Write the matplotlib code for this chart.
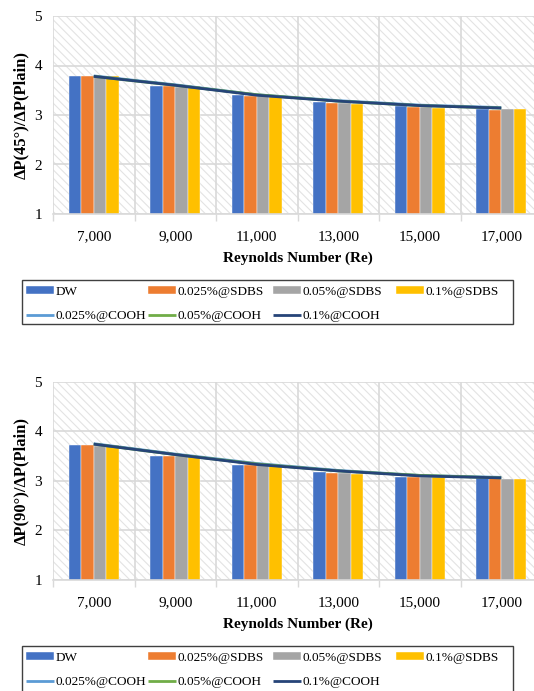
import matplotlib

matplotlib.use("Agg")
import matplotlib.pyplot as plt
from matplotlib.patches import Rectangle
import numpy as np

plt.rcParams["font.family"] = ["Liberation Serif", "DejaVu Serif"]
plt.rcParams["hatch.linewidth"] = 0.8

re_labels = ["7,000", "9,000", "11,000", "13,000", "15,000", "17,000"]

# 45 degree
dw_45 = [3.78, 3.58, 3.40, 3.27, 3.18, 3.12]
sdbs025_45 = [3.78, 3.58, 3.39, 3.25, 3.17, 3.11]
sdbs05_45 = [3.77, 3.56, 3.38, 3.24, 3.16, 3.12]
sdbs1_45 = [3.78, 3.58, 3.38, 3.22, 3.15, 3.12]
cooh025_45 = [3.79, 3.61, 3.41, 3.29, 3.20, 3.15]
cooh05_45 = [3.78, 3.60, 3.41, 3.28, 3.19, 3.14]
cooh1_45 = [3.78, 3.60, 3.40, 3.28, 3.19, 3.14]

# 90 degree
dw_90 = [3.72, 3.51, 3.32, 3.18, 3.08, 3.05]
sdbs025_90 = [3.72, 3.51, 3.32, 3.16, 3.08, 3.05]
sdbs05_90 = [3.71, 3.50, 3.31, 3.15, 3.07, 3.04]
sdbs1_90 = [3.72, 3.51, 3.30, 3.14, 3.07, 3.04]
cooh025_90 = [3.75, 3.54, 3.35, 3.21, 3.11, 3.07]
cooh05_90 = [3.74, 3.53, 3.34, 3.20, 3.11, 3.06]
cooh1_90 = [3.74, 3.53, 3.33, 3.20, 3.10, 3.06]

bar_names = ["DW", "0.025%@SDBS", "0.05%@SDBS", "0.1%@SDBS"]
bar_colors = ["#4472C4", "#ED7D31", "#A5A5A5", "#FFC000"]
line_names = ["0.025%@COOH", "0.05%@COOH", "0.1%@COOH"]
line_colors = ["#5B9BD5", "#70AD47", "#264478"]

GRID = "#d9d9d9"


def draw_panel(ax, bars, lines, ylabel):
    x = np.arange(len(re_labels))
    w = 0.153
    ax.add_patch(Rectangle((0, 0), 1, 1, transform=ax.transAxes, facecolor="white",
                           edgecolor="#e3e3e3", linewidth=0, hatch="\\\\\\\\", zorder=0.1))
    handles = {}
    for i, (vals, name, c) in enumerate(zip(bars, bar_names, bar_colors)):
        h = ax.bar(x + (i - 1.5) * w, vals, w, bottom=0, color=c, edgecolor="white",
                   linewidth=0.3, zorder=2, label=name)
        handles[name] = h
    for vals, name, c in zip(lines, line_names, line_colors):
        (h,) = ax.plot(x, vals, color=c, linewidth=2.0, zorder=3, label=name,
                       solid_capstyle="butt")
        handles[name] = h

    ax.set_xlim(-0.5, 5.5)
    ax.set_ylim(1, 5)
    ax.set_yticks([1, 2, 3, 4, 5])
    ax.set_xticks(x)
    ax.set_xticklabels(re_labels)
    ax.set_xticks(np.arange(-0.5, 6.0, 1.0), minor=True)
    ax.tick_params(axis="x", which="major", length=0, pad=12, labelsize=11)
    ax.tick_params(axis="x", which="minor", length=5, width=1.0, color=GRID)
    ax.tick_params(axis="y", length=0, pad=8, labelsize=11)
    ax.grid(True, which="minor", axis="x", color=GRID, linewidth=1.2)
    ax.grid(True, which="major", axis="y", color=GRID, linewidth=1.2)
    ax.set_axisbelow(True)
    for s in ["top", "right", "left"]:
        ax.spines[s].set_visible(False)
    ax.spines["bottom"].set_color(GRID)
    ax.spines["bottom"].set_linewidth(1.2)
    ax.set_xlabel("Reynolds Number (Re)", fontsize=11, fontweight="bold", labelpad=6)
    ax.set_ylabel(ylabel, fontsize=12, fontweight="bold", labelpad=4)
    return handles


fig = plt.figure(figsize=(5.34, 6.91), dpi=100)
H = 691.0
W = 534.0
left = 53 / W
width = (542 - 53) / W

ax1 = fig.add_axes([left, 1 - 214 / H, width, 198 / H])
ax2 = fig.add_axes([left, 1 - 580 / H, width, 198.3 / H])

h1 = draw_panel(ax1, [dw_45, sdbs025_45, sdbs05_45, sdbs1_45],
                [cooh025_45, cooh05_45, cooh1_45], "ΔP(45°)/ΔP(Plain)")
h2 = draw_panel(ax2, [dw_90, sdbs025_90, sdbs05_90, sdbs1_90],
                [cooh025_90, cooh05_90, cooh1_90], "ΔP(90°)/ΔP(Plain)")

# legend laid out as four equal-width columns inside a plain box
columns = [["DW", "0.025%@COOH"], ["0.025%@SDBS", "0.05%@COOH"],
           ["0.05%@SDBS", "0.1%@COOH"], ["0.1%@SDBS"]]
col_x = [26, 148, 273, 396]

for handles, y_top, box_h in [(h1, 280, 44), (h2, 646, 48)]:
    fig.patches.append(Rectangle((22 / W, 1 - (y_top + box_h) / H), 491 / W, box_h / H,
                                 transform=fig.transFigure, facecolor="none",
                                 edgecolor="#404040", linewidth=1.0))
    for names, cx in zip(columns, col_x):
        fig.legend([handles[n] for n in names], names, ncol=1, loc="upper left",
                   bbox_to_anchor=(cx / W, 1 - (y_top + 6) / H), borderaxespad=0,
                   borderpad=0, fontsize=9.5, frameon=False, handlelength=2.1,
                   handleheight=0.55, handletextpad=0.15, labelspacing=0.9)

fig.savefig("out.png", dpi=100)
